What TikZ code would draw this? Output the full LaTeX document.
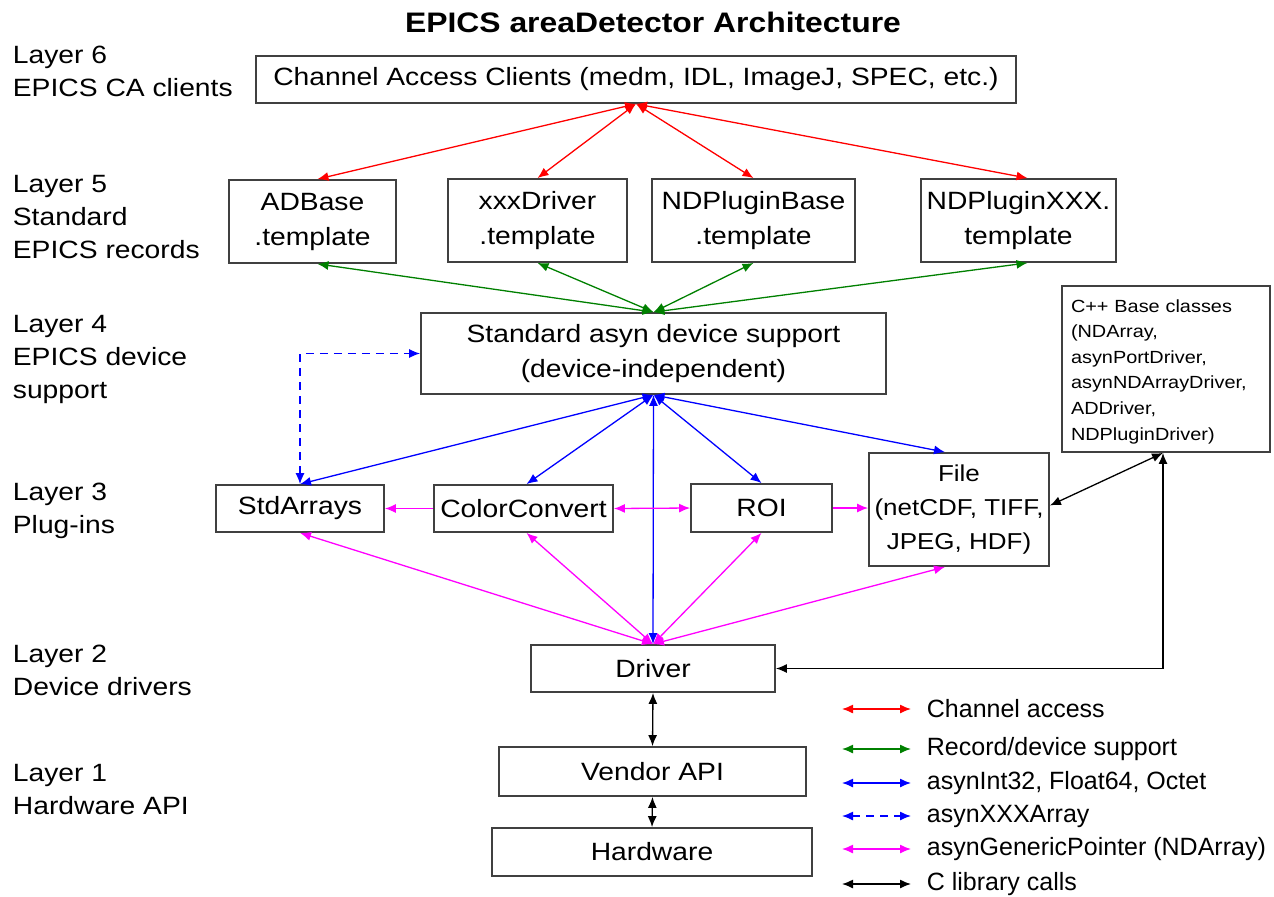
\documentclass[tikz,border=0pt]{standalone}
\usepackage{fontspec}
\setmainfont[FakeStretch=1.13]{Liberation Sans}
\newfontfamily\legendfont{Liberation Sans}
\usepackage{xcolor}
\usetikzlibrary{arrows.meta}

\definecolor{boxline}{RGB}{64,64,64}
\definecolor{cared}{RGB}{255,0,0}
\definecolor{cagreen}{RGB}{0,128,0}
\definecolor{asynblue}{RGB}{0,0,255}
\definecolor{ptrpink}{RGB}{255,0,255}
\newcommand{\mainsize}{\fontsize{12.5}{17.5}\selectfont}
\newcommand{\smallsize}{\fontsize{8.8}{12.8}\selectfont}

\tikzset{
  box/.style={draw=boxline, line width=0.9pt, inner sep=0pt, align=center, font=\mainsize},
  layertext/.style={anchor=north west, inner sep=0.75pt, align=left, font=\fontsize{12.5}{16.5}\selectfont},
  conn/.style={line width=0.65pt, {Latex[length=5.5pt,width=4.5pt]}-{Latex[length=5.5pt,width=4.5pt]}},
  oneway/.style={line width=0.65pt, -{Latex[length=5.5pt,width=4.5pt]}},
  caarrow/.style={conn, cared},
  recarrow/.style={conn, cagreen},
  intarrow/.style={conn, asynblue},
  arrarrow/.style={conn, asynblue, dash pattern=on 4pt off 3pt},
  ptrarrow/.style={conn, ptrpink},
  libarrow/.style={conn, black}
}

\begin{document}
\begin{tikzpicture}[x=0.5pt,y=0.5pt,yscale=-1,xscale=1]
\useasboundingbox (0,0) rectangle (1274,896);

% title
\node (title) at (653,22) {\fontsize{14.1}{16}\selectfont\bfseries EPICS areaDetector Architecture};

% layer labels
\node[layertext] (lay6) at (11,44) {Layer 6\\EPICS CA clients};
\node[layertext] (lay5) at (11,173) {Layer 5\\Standard\\EPICS records};
\node[layertext] (lay4) at (11,313) {Layer 4\\EPICS device\\support};
\node[layertext] (lay3) at (11,481) {Layer 3\\Plug-ins};
\node[layertext] (lay2) at (11,643) {Layer 2\\Device drivers};
\node[layertext] (lay1) at (11,762) {Layer 1\\Hardware API};

% boxes
\node[box, minimum width=380pt, minimum height=23.5pt] (ca) at (636,79.5) {Channel Access Clients (medm, IDL, ImageJ, SPEC, etc.)};

\node[box, minimum width=83.5pt, minimum height=41.5pt] (adbase) at (312.5,221.5) {ADBase\\.template};
\node[box, minimum width=89.5pt, minimum height=41.5pt] (xxxdrv) at (537.5,220.5) {xxxDriver\\.template};
\node[box, minimum width=101.5pt, minimum height=41.5pt] (plugbase) at (753.5,220.5) {NDPluginBase\\.template};
\node[box, minimum width=97.5pt, minimum height=41.5pt] (plugxxx) at (1018.5,220.5) {NDPluginXXX.\\template};

\node[box, minimum width=232.5pt, minimum height=40.5pt] (asyn) at (653.5,353.5) {Standard asyn device support\\(device-independent)};

\node[box, minimum width=104pt, minimum height=83pt, text width=95pt, align=left, font=\smallsize] (cpp) at (1166,369) {\rule{0pt}{9pt}C++ Base classes\\(NDArray,\\asynPortDriver,\\asynNDArrayDriver,\\ADDriver,\\NDPluginDriver)};

\node[box, minimum width=84pt, minimum height=23.5pt] (std) at (300,508.5) {StdArrays};
\node[box, minimum width=89.5pt, minimum height=23.5pt] (color) at (523.5,508.5) {ColorConvert};
\node[box, minimum width=70.5pt, minimum height=24pt] (roi) at (761.5,508) {ROI};
\node[box, minimum width=90pt, minimum height=56.5pt, font=\fontsize{11.5}{17}\selectfont] (file) at (959,509.5) {File\\(netCDF, TIFF,\\JPEG, HDF)};

\node[box, minimum width=122pt, minimum height=23.5pt] (drv) at (653,668.5) {Driver};
\node[box, minimum width=153.5pt, minimum height=24.5pt] (vendor) at (652.5,771.5) {Vendor API};
\node[box, minimum width=160pt, minimum height=24pt] (hw) at (652,852) {Hardware};

% channel access
\draw[caarrow] (ca.south) -- ([xshift=2.5pt]adbase.north);
\draw[caarrow] (ca.south) -- (xxxdrv.north);
\draw[caarrow] (ca.south) -- (plugbase.north);
\draw[caarrow] (ca.south) -- ([xshift=4.5pt]plugxxx.north);

% record/device support
\draw[recarrow] (asyn.north) -- ([xshift=2.5pt]adbase.south);
\draw[recarrow] (asyn.north) -- (xxxdrv.south);
\draw[recarrow] (asyn.north) -- (plugbase.south);
\draw[recarrow] (asyn.north) -- ([xshift=4.5pt]plugxxx.south);

% asynInt32 etc.
\draw[intarrow] (asyn.south) -- (std.north);
\draw[intarrow] (asyn.south) -- ([xshift=1.5pt]color.north);
\draw[intarrow] (asyn.south) -- (roi.north);
\draw[intarrow] (asyn.south) -- ([xshift=-7pt]file.north);
\draw[intarrow] (asyn.south) -- (drv.north);

% asynXXXArray
\draw[arrarrow] (std.north) |- (asyn.west);

% asynGenericPointer
\draw[ptrarrow] (drv.north) -- (std.south);
\draw[ptrarrow] (drv.north) -- ([xshift=1.5pt]color.south);
\draw[ptrarrow] (drv.north) -- (roi.south);
\draw[ptrarrow] (drv.north) -- ([xshift=-7pt]file.south);
\draw[oneway, ptrpink] (color.west) -- (std.east);
\draw[ptrarrow] (color.east) -- (roi.west);
\draw[oneway, ptrpink] (roi.east) -- (roi.east -| file.west);

% C library calls
\draw[libarrow] ([yshift=-2pt]file.east) -- ([xshift=-1.5pt]cpp.south);
\draw[libarrow] (drv.east) -| ([xshift=-1.5pt]cpp.south);
\draw[libarrow] (drv.south) -- (vendor.north);
\draw[libarrow] (vendor.south) -- (hw.north);

% legend
\foreach \y/\name/\sty/\txt in {709/chan/caarrow/Channel access,
    749/rec/recarrow/Record\slash device support,
    783/int/intarrow/{asynInt32, Float64, Octet},
    816/arr/arrarrow/asynXXXArray,
    849/ptr/ptrarrow/asynGenericPointer (NDArray),
    884/lib/libarrow/C library calls} {
  \coordinate (\name a) at (842,\y);
  \coordinate (\name b) at (911,\y);
  \draw[\sty] (\name a) -- (\name b);
  \node[anchor=west, inner sep=0.75pt, font=\legendfont\fontsize{12.5}{15}\selectfont] (\name t) at (925,\y) {\txt};
}

\end{tikzpicture}
\end{document}
